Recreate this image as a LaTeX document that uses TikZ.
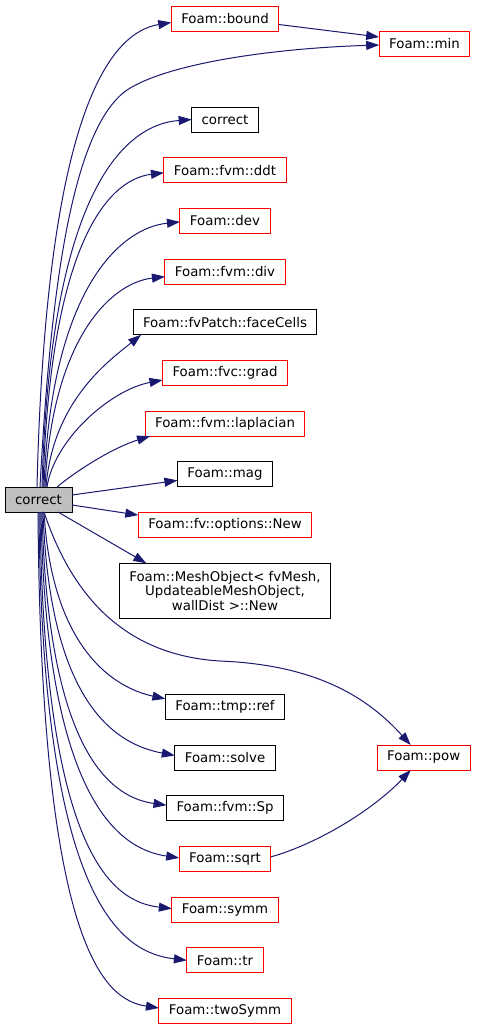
\documentclass[tikz,border=0pt]{standalone}
\usepackage{fontspec}
\setmainfont{DejaVu Sans}
\usepackage{tikz}
\usetikzlibrary{arrows.meta,positioning}
\definecolor{edgeblue}{HTML}{191970}
\definecolor{rootgray}{HTML}{BFBFBF}

\begin{document}
\begin{tikzpicture}[
  x=1pt, y=-1pt,
  font=\fontsize{13.33}{14.5}\selectfont,
  fn/.style={draw, line width=1pt, inner xsep=10pt, inner ysep=2pt,
    minimum height=25pt, outer sep=0pt, align=center},
  ext/.style={fn, draw=red},
  root/.style={fn, fill=rootgray, minimum width=67pt},
  edge/.style={-{Triangle[length=13pt,width=9pt]}, color=edgeblue, line width=1pt}
]
\useasboundingbox (0,0) rectangle (477,1029);

\node[root] (root) at (38.5,499.5) {correct};

\node[ext] (bound) at (225,18.5) {Foam::bound};
\node[ext] (min) at (424.5,44) {Foam::min};
\node[fn, below=76pt of bound] (correctcall) {correct};
\node[ext, below=25.7pt of correctcall] (ddt) {Foam::fvm::ddt};
\node[ext, below=25.7pt of ddt] (dev) {Foam::dev};
\node[ext, below=25.7pt of dev] (div) {Foam::fvm::div};
\node[fn, below=25.7pt of div] (faceCells) {Foam::fvPatch::faceCells};
\node[ext, below=25.7pt of faceCells] (grad) {Foam::fvc::grad};
\node[ext, below=25.7pt of grad] (laplacian) {Foam::fvm::laplacian};
\node[fn, below=25.7pt of laplacian] (mag) {Foam::mag};
\node[ext, below=25.7pt of mag] (options) {Foam::fv::options::New};
\node[fn, below=25.7pt of options, minimum height=55pt] (meshobj)
  {Foam::MeshObject< fvMesh,\\UpdateableMeshObject,\hspace*{27pt}\\wallDist >::New};
\node[fn, below=76pt of meshobj] (tmpref) {Foam::tmp::ref};
\node[fn, below=25.7pt of tmpref] (solve) {Foam::solve};
\node[fn, below=25.7pt of solve] (Sp) {Foam::fvm::Sp};
\node[ext, below=25.7pt of Sp] (sqrt) {Foam::sqrt};
\node[ext, below=25.7pt of sqrt] (symm) {Foam::symm};
\node[ext, below=25.7pt of symm] (tr) {Foam::tr};
\node[ext, below=25.7pt of tr] (twoSymm) {Foam::twoSymm};
\node[ext, right=102pt of solve] (pow) {Foam::pow};

% calls going up
\draw[edge] ([xshift=-1.5pt]root.north) .. controls (45,160) and (95,35) .. ([yshift=-4pt]bound.west);
\draw[edge] ([xshift=1.5pt]root.north) .. controls (50,300) and (70,130) .. (127,90)
  .. controls (170,62) and (280,48) .. ([yshift=-1pt]min.west);
\draw[edge] ([xshift=3.5pt]root.north) .. controls (50,200) and (120,125) .. (correctcall.west);
\draw[edge] ([xshift=4.5pt]root.north) .. controls (50,250) and (105,180) .. ([yshift=-2.5pt]ddt.west);
\draw[edge] ([xshift=5.5pt]root.north) .. controls (51,290) and (120,228) .. ([yshift=-1pt]dev.west);
\draw[edge] ([xshift=6.5pt]root.north) .. controls (52,340) and (110,283) .. ([yshift=-5pt]div.west);
\draw[edge] ([xshift=7.5pt]root.north) .. controls (53,400) and (110,360) .. ([xshift=8pt]faceCells.south west);
\draw[edge] ([xshift=8.5pt]root.north) .. controls (54,440) and (110,390) .. ([yshift=-7pt]grad.west);
\draw[edge] ([xshift=18.5pt]root.north) .. controls (80,468) and (115,447) .. ([xshift=5pt]laplacian.south west);
\draw[edge] ([yshift=4.5pt]root.east) -- ([yshift=-6pt]mag.west);
\draw[edge] ([yshift=-5.5pt]root.east) -- ([yshift=10pt]options.west);
\draw[edge] ([xshift=19.5pt]root.south) -- ([xshift=27pt]meshobj.north west);

% calls going down
\draw[edge] ([xshift=5.5pt]root.south) .. controls (70,590) and (120,655) .. (220,661)
  .. controls (320,665) and (370,700) .. ([xshift=-13pt]pow.north);
\draw[edge] ([xshift=5.5pt]root.south) .. controls (52,650) and (115,688) .. ([yshift=8pt]tmpref.west);
\draw[edge] ([xshift=4.5pt]root.south) .. controls (50,710) and (120,745) .. ([yshift=2pt]solve.west);
\draw[edge] ([xshift=3.5pt]root.south) .. controls (48,760) and (115,798) .. ([yshift=3pt]Sp.west);
\draw[edge] ([xshift=2.5pt]root.south) .. controls (46,810) and (125,850) .. ([yshift=1pt]sqrt.west);
\draw[edge] ([xshift=1.5pt]root.south) .. controls (44,860) and (115,902) .. ([yshift=1pt]symm.west);
\draw[edge] ([xshift=0.5pt]root.south) .. controls (42,910) and (125,953) .. (tr.west);
\draw[edge] ([xshift=-0.5pt]root.south) .. controls (41,950) and (105,1000) .. ([yshift=3pt]twoSymm.west);

% calls between callees
\draw[edge] ([yshift=-6pt]bound.east) -- ([yshift=7pt]min.west);
\draw[edge] ([yshift=2pt]sqrt.east) .. controls (320,843) and (375,808) .. ([xshift=-13pt]pow.south);
\end{tikzpicture}
\end{document}
